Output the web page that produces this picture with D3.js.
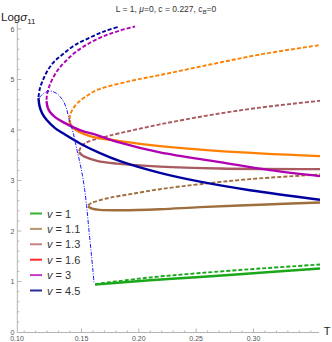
<!DOCTYPE html>
<html>
<head>
<meta charset="utf-8">
<script src="https://cdn.jsdelivr.net/npm/d3@7"></script>
<style>
  body { margin: 0; background: #fff; }
  svg { font-family: "Liberation Sans", Arial, sans-serif; }
</style>
</head>
<body>
<div id="chart"></div>
<script>
//Setup SVG size vars
var width = 332,
  height = 342;

//Curve data, [T, Log sigma11], lower branch solid, upper branch dashed
var v1Solid = [[0.1618, 0.939], [0.2097, 1.025], [0.2533, 1.090], [0.3057, 1.173], [0.358, 1.257]];
var v1Dash = [[0.1618, 0.949], [0.2071, 1.074], [0.2533, 1.167], [0.3057, 1.257], [0.358, 1.336]];

var v11Solid = [[0.1557, 2.491], [0.1592, 2.442], [0.1661, 2.418], [0.1836, 2.412], [0.2184, 2.432],
  [0.2533, 2.472], [0.3057, 2.521], [0.358, 2.565]];
var v11Dash = [[0.1557, 2.511], [0.1592, 2.561], [0.1661, 2.610], [0.1749, 2.660], [0.1923, 2.729],
  [0.2184, 2.828], [0.2533, 2.927], [0.2969, 3.027], [0.358, 3.120]];

var v13Solid = [[0.1478, 3.562], [0.1504, 3.502], [0.1531, 3.467], [0.1635, 3.389], [0.1810, 3.334],
  [0.2184, 3.274], [0.2708, 3.239], [0.358, 3.225]];
var v13Dash = [[0.1478, 3.582], [0.1496, 3.661], [0.1539, 3.750], [0.1661, 3.839], [0.1836, 3.938],
  [0.2184, 4.111], [0.2621, 4.295], [0.3057, 4.444], [0.358, 4.578]];

var v16Solid = [[0.1394, 4.196], [0.1408, 4.097], [0.1452, 3.998], [0.1574, 3.879], [0.1836, 3.780],
  [0.2184, 3.681], [0.2708, 3.582], [0.358, 3.482]];
var v16Dash = [[0.1394, 4.216], [0.1404, 4.315], [0.1426, 4.424], [0.1469, 4.543], [0.1531, 4.652],
  [0.1635, 4.791], [0.1923, 4.969], [0.2184, 5.088], [0.2621, 5.296], [0.3057, 5.494], [0.358, 5.682]];

var v3Solid = [[0.1195, 4.573], [0.1204, 4.454], [0.1225, 4.355], [0.1269, 4.256], [0.1339, 4.157],
  [0.1487, 3.998], [0.1635, 3.899], [0.1836, 3.750], [0.2184, 3.556], [0.2708, 3.364],
  [0.3144, 3.205], [0.358, 3.086]];
var v3Dash = [[0.1195, 4.598], [0.1199, 4.697], [0.1212, 4.816], [0.1243, 4.994], [0.1295, 5.192],
  [0.1365, 5.371], [0.1452, 5.549], [0.1574, 5.728], [0.1705, 5.867], [0.1836, 5.970], [0.1967, 6.049]];

var v45Solid = [[0.1125, 4.632], [0.1134, 4.473], [0.1156, 4.334], [0.1197, 4.196], [0.1269, 4.038],
  [0.1356, 3.909], [0.1487, 3.734], [0.1661, 3.542], [0.1836, 3.383], [0.2184, 3.151],
  [0.2533, 2.977], [0.2969, 2.808], [0.358, 2.620]];
var v45Dash = [[0.1125, 4.652], [0.1138, 4.830], [0.1164, 4.989], [0.1208, 5.192], [0.1269, 5.371],
  [0.1339, 5.504], [0.1443, 5.682], [0.1574, 5.831], [0.1705, 5.960], [0.1818, 6.039]];

//Locus of the turning points
var turnLocus = [[0.1134, 4.642], [0.1173, 4.731], [0.1225, 4.771], [0.1278, 4.731], [0.1330, 4.612],
  [0.1365, 4.454], [0.1394, 4.196], [0.1426, 3.958], [0.1461, 3.601], [0.1496, 3.245],
  [0.1522, 2.908], [0.1544, 2.511], [0.1565, 2.016], [0.1587, 1.520], [0.1609, 0.985]];

var legendLabels = ["1", "1.1", "1.3", "1.6", "3", "4.5"];
var legendColors = ["#2fb42f", "#b8946c", "#c98080", "#ff2a2a", "#c43cc4", "#2a2a9c"];
var xTicks = [0.15, 0.20, 0.25, 0.30];
var yTicks = [0, 1, 2, 3, 4, 5, 6];

var series = [
  { data: v1Solid, color: "#1aa81a", dash: null, w: 2.4 },
  { data: v1Dash, color: "#1aa81a", dash: "4,2", w: 1.9 },
  { data: v11Solid, color: "#9e6e3c", dash: null, w: 2.4 },
  { data: v11Dash, color: "#9e6e3c", dash: "4,2", w: 1.9 },
  { data: v13Solid, color: "#a85a5e", dash: null, w: 2.4 },
  { data: v13Dash, color: "#a85a5e", dash: "4,2", w: 1.9 },
  { data: v16Solid, color: "#ff8000", dash: null, w: 2.4 },
  { data: v16Dash, color: "#ff8000", dash: "4,2", w: 1.9 },
  { data: v3Solid, color: "#b000b0", dash: null, w: 2.4 },
  { data: v3Dash, color: "#b000b0", dash: "4,2", w: 1.9 },
  { data: v45Solid, color: "#0000a0", dash: null, w: 2.4 },
  { data: v45Dash, color: "#0000a0", dash: "4,2", w: 1.9 }
];

var x = d3.scaleLinear().domain([0.15, 0.30]).range([81.5, 253.5]);
var y = d3.scaleLinear().domain([0, 6]).range([332, 29]);

var svg = d3.select("#chart")
  .append("svg")
  .attr("width", width)
  .attr("height", height);

var plot = svg.append("g");

//Clip to plot area
svg.append("clipPath").attr("id", "clip")
  .append("rect").attr("x", 17).attr("y", 20).attr("width", 303).attr("height", 312);

var line = d3.line()
  .x(function(d) { return x(d[0]); })
  .y(function(d) { return y(d[1]); })
  .curve(d3.curveCatmullRom.alpha(0.5));

//Axes
var axisColor = "#b3b3b3";
plot.append("line")
  .attr("x1", 17.3).attr("x2", 319).attr("y1", 332.5).attr("y2", 332.5)
  .attr("stroke", axisColor).attr("stroke-width", 1);
plot.append("line")
  .attr("x1", 17.3).attr("x2", 17.3).attr("y1", 332.5).attr("y2", 22)
  .attr("stroke", axisColor).attr("stroke-width", 1);

//x ticks, major and minor
d3.range(0.10, 0.355, 0.01).forEach(function(t) {
  var major = xTicks.some(function(m) { return Math.abs(m - t) < 1e-6; });
  if (x(t) < 18) return;
  plot.append("line")
    .attr("x1", x(t)).attr("x2", x(t))
    .attr("y1", 332.5).attr("y2", 332.5 - (major ? 4 : 2))
    .attr("stroke", axisColor);
});
plot.selectAll(".xlab")
  .data(xTicks)
  .enter()
  .append("text")
  .attr("class", "xlab")
  .attr("x", function(d) { return x(d); })
  .attr("y", 341)
  .attr("text-anchor", "middle")
  .attr("font-size", 7)
  .attr("fill", "#555")
  .text(function(d) { return d3.format(".2f")(d); });
plot.append("text")
  .attr("x", 17).attr("y", 341)
  .attr("text-anchor", "middle")
  .attr("font-size", 7)
  .attr("fill", "#555")
  .text("0.10");

//y ticks, major and minor
d3.range(0, 6.01, 0.2).forEach(function(v) {
  var major = Math.abs(v - Math.round(v)) < 1e-6;
  if (v < 0.1) return;
  plot.append("line")
    .attr("x1", 17.3).attr("x2", 17.3 + (major ? 4 : 2))
    .attr("y1", y(v)).attr("y2", y(v))
    .attr("stroke", axisColor);
});
plot.selectAll(".ylab")
  .data(yTicks)
  .enter()
  .append("text")
  .attr("class", "ylab")
  .attr("x", 14.5)
  .attr("y", function(d) { return y(d) + 2.5; })
  .attr("text-anchor", "end")
  .attr("font-size", 7)
  .attr("fill", "#555")
  .text(function(d) { return d; });

//Curves
var curves = plot.append("g").attr("clip-path", "url(#clip)");

curves.selectAll(".branch")
  .data(series)
  .enter()
  .append("path")
  .attr("class", "branch")
  .attr("d", function(d) { return line(d.data); })
  .attr("fill", "none")
  .attr("stroke", function(d) { return d.color; })
  .attr("stroke-width", function(d) { return d.w; })
  .attr("stroke-dasharray", function(d) { return d.dash; });

curves.append("path")
  .attr("d", line(turnLocus))
  .attr("fill", "none")
  .attr("stroke", "#1a1aff")
  .attr("stroke-width", 1)
  .attr("stroke-dasharray", "4,1.5,1,1.5");

//Title
var title = svg.append("text")
  .attr("x", 166).attr("y", 12)
  .attr("text-anchor", "middle")
  .attr("font-size", 8.5)
  .attr("fill", "#333");
title.append("tspan").text("L = 1, ");
title.append("tspan").attr("font-style", "italic").text("\u03bc");
title.append("tspan").text("=0, c = 0.227, c");
title.append("tspan").attr("font-style", "italic").attr("font-size", 6).attr("dy", 2).text("B");
title.append("tspan").attr("dy", -2).text("=0");

//Axis labels
var yLab = svg.append("text")
  .attr("x", 1).attr("y", 21)
  .attr("font-size", 11.5)
  .attr("fill", "#222");
yLab.append("tspan").text("Log");
yLab.append("tspan").attr("font-style", "italic").text("\u03c3");
yLab.append("tspan").attr("font-size", 8).attr("dy", 3).text("11");

svg.append("text")
  .attr("x", 327).attr("y", 335)
  .attr("text-anchor", "middle")
  .attr("font-size", 11)
  .attr("fill", "#222")
  .text("T");

//Legend
var legend = svg.selectAll(".legend")
  .data(legendLabels)
  .enter()
  .append("g")
  .attr("class", "legend")
  .attr("transform", function(d, i) {
    return "translate(0," + (213.5 + i * 15.4) + ")";
  });

legend.append("line")
  .attr("x1", 30).attr("x2", 42)
  .attr("stroke", function(d, i) { return legendColors[i]; })
  .attr("stroke-width", 2);

var legendText = legend.append("text")
  .attr("x", 47)
  .attr("y", 4)
  .attr("font-size", 11)
  .attr("fill", "#333");
legendText.append("tspan").attr("font-style", "italic").text("v");
legendText.append("tspan").text(function(d) { return " = " + d; });
</script>
</body>
</html>
